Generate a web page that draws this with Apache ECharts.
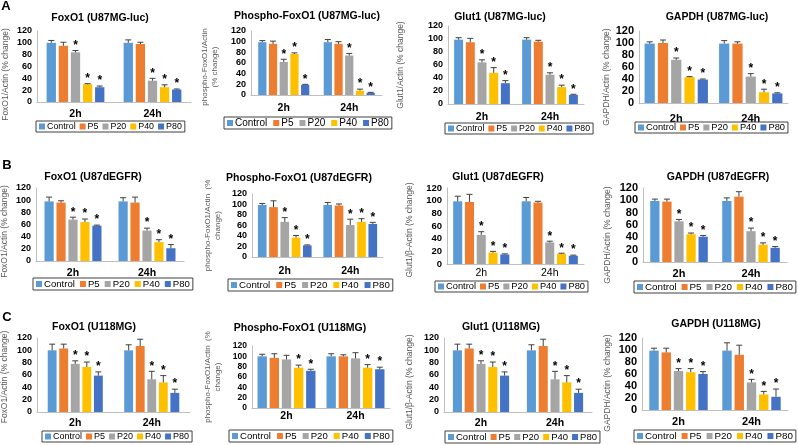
<!DOCTYPE html>
<html><head><meta charset="utf-8">
<script src="https://cdn.jsdelivr.net/npm/echarts@6/dist/echarts.min.js"></script>
<style>html,body{margin:0;padding:0;background:#fff}#c{width:798px;height:445px}</style>
</head><body><div id="c"></div>
<script>
const categories = ['2h', '24h'];
const seriesNames = ['Control', 'P5', 'P20', 'P40', 'P80'];
const yMin = 0, yMax = 120, yStep = 20;

// Values are per series: [2h, 24h]
const A1_title = 'FoxO1 (U87MG-luc)';
const A1_yName = 'FoxO1/Actin (% change)';
const A1_mean = [[100,100],[95,98],[84,36],[30,25],[25,21]];
const A1_err  = [[4,5],[6,3],[3,4],[1,4],[2,1]];
const A1_sig  = [[0,0],[0,0],[1,1],[1,1],[1,1]];

const A2_title = 'Phospho-FoxO1 (U87MG-luc)';
const A2_yName = 'phospho-FoxO1/Actin\n(% change)';
const A2_mean = [[99,99],[96,96],[62,74],[77,8],[19,4]];
const A2_err  = [[3,5],[5,4],[5,4],[2,3],[1,1]];
const A2_sig  = [[0,0],[0,0],[1,1],[1,1],[1,1]];

const A3_title = 'Glut1 (U87MG-luc)';
const A3_yName = 'Glut1/Actin (% change)';
const A3_mean = [[99,99],[95,96],[64,45],[48,26],[32,14]];
const A3_err  = [[3,3],[6,2],[4,3],[8,3],[4,1]];
const A3_sig  = [[0,0],[0,0],[1,1],[1,1],[1,1]];

const A4_title = 'GAPDH (U87MG-luc)';
const A4_yName = 'GAPDH/Actin (% change)';
const A4_mean = [[99,99],[100,99],[72,44],[43,18],[39,16]];
const A4_err  = [[3,5],[5,3],[3,5],[1,5],[1,1]];
const A4_sig  = [[0,0],[0,0],[1,1],[1,1],[1,1]];

const B1_title = 'FoxO1 (U87dEGFR)';
const B1_yName = 'FoxO1/Actin (% change)';
const B1_mean = [[98,98],[96,96],[68,50],[64,31],[58,21]];
const B1_err  = [[7,6],[3,9],[4,4],[5,4],[1,6]];
const B1_sig  = [[0,0],[0,0],[1,1],[1,1],[1,1]];

const B2_title = 'Phospho-FoxO1 (U87dEGFR)';
const B2_yName = 'phospho-FoxO1/Actin  (%\nchange)';
const B2_mean = [[99,99],[95,98],[67,61],[37,67],[22,63]];
const B2_err  = [[3,5],[12,3],[8,11],[4,6],[1,3]];
const B2_sig  = [[0,0],[0,0],[1,1],[1,1],[1,1]];

const B3_title = 'Glut1 (U87dEGFR)';
const B3_yName = 'Glut1/β-Actin (% change)';
const B3_mean = [[99,99],[98,97],[46,34],[18,16],[15,13]];
const B3_err  = [[8,6],[12,2],[5,2],[2,1],[1,1]];
const B3_sig  = [[0,0],[0,0],[1,1],[1,1],[1,1]];

const B4_title = 'GAPDH (U87dEGFR)';
const B4_yName = 'GAPDH/Actin (% change)';
const B4_mean = [[99,99],[98,106],[66,50],[45,28],[41,23]];
const B4_err  = [[3,5],[4,8],[3,5],[2,3],[2,2]];
const B4_sig  = [[0,0],[0,0],[1,1],[1,1],[1,1]];

const C1_title = 'FoxO1 (U118MG)';
const C1_yName = 'FoxO1/Actin (% change)';
const C1_mean = [[100,100],[103,107],[78,53],[73,48],[59,31]];
const C1_err  = [[10,9],[7,11],[5,13],[8,11],[6,6]];
const C1_sig  = [[0,0],[0,0],[1,1],[1,1],[1,1]];

const C2_title = 'Phospho-FoxO1 (U118MG)';
const C2_yName = 'phospho-FoxO1/Actin  (%\nchange)';
const C2_mean = [[100,100],[97,100],[94,96],[78,78],[72,75]];
const C2_err  = [[4,5],[8,3],[8,11],[5,6],[3,4]];
const C2_sig  = [[0,0],[0,0],[0,0],[1,1],[1,1]];

const C3_title = 'Glut1 (U118MG)';
const C3_yName = 'Glut1/β-Actin (% change)';
const C3_mean = [[100,100],[103,107],[78,53],[73,48],[59,31]];
const C3_err  = [[10,9],[7,11],[5,13],[8,11],[6,6]];
const C3_sig  = [[0,0],[0,0],[1,1],[1,1],[1,1]];

const C4_title = 'GAPDH (U118MG)';
const C4_yName = 'GAPDH/Actin (% change)';
const C4_mean = [[99,99],[96,92],[65,46],[63,26],[60,22]];
const C4_err  = [[4,13],[7,16],[4,5],[6,5],[4,13]];
const C4_sig  = [[0,0],[0,0],[1,1],[1,1],[1,1]];

const panelLetters = ['A', 'B', 'C'];

// ---------- styling / layout ----------
const colors = ['#5B9BD5', '#ED7D31', '#A5A5A5', '#FFC000', '#4472C4'];
const FF = "'Liberation Sans', Arial, sans-serif";

const panels = [
  {title:A1_title, yName:A1_yName, mean:A1_mean, err:A1_err, sig:A1_sig},
  {title:A2_title, yName:A2_yName, mean:A2_mean, err:A2_err, sig:A2_sig},
  {title:A3_title, yName:A3_yName, mean:A3_mean, err:A3_err, sig:A3_sig},
  {title:A4_title, yName:A4_yName, mean:A4_mean, err:A4_err, sig:A4_sig},
  {title:B1_title, yName:B1_yName, mean:B1_mean, err:B1_err, sig:B1_sig},
  {title:B2_title, yName:B2_yName, mean:B2_mean, err:B2_err, sig:B2_sig},
  {title:B3_title, yName:B3_yName, mean:B3_mean, err:B3_err, sig:B3_sig},
  {title:B4_title, yName:B4_yName, mean:B4_mean, err:B4_err, sig:B4_sig},
  {title:C1_title, yName:C1_yName, mean:C1_mean, err:C1_err, sig:C1_sig},
  {title:C2_title, yName:C2_yName, mean:C2_mean, err:C2_err, sig:C2_sig},
  {title:C3_title, yName:C3_yName, mean:C3_mean, err:C3_err, sig:C3_sig},
  {title:C4_title, yName:C4_yName, mean:C4_mean, err:C4_err, sig:C4_sig}
];

// l,r,t,b: plot box; ratio: bar group / category; tx,ty: title; lg: legend
const layout = [
  {l:37, r:191, t:31, b:102, ratio:.75, tx:100, ty:18, cm:7, cf:10.5, tf:9, ng:26, nf:8.5, nsh:8, ll:36, lt:121, lf:8.9, lgap:4},
  {l:251, r:382, t:31, b:95, ratio:.78, tx:307, ty:16, cm:8, cf:10.5, tf:9, ng:31, nf:8, nsh:4, ll:224, lt:117, lf:10, lgap:6},
  {l:448, r:584, t:26, b:104, ratio:.82, tx:500, ty:17, cm:8, cf:10.5, tf:9, ng:42, nf:8.5, nsh:0, ll:445, lt:123, lf:8.8, lgap:4},
  {l:639, r:788, t:31, b:103, ratio:.85, tx:717, ty:17, cm:10, cf:11, tf:11, ng:26, nf:8.5, nsh:10, ll:635, lt:122, lf:9.3, lgap:4},
  {l:36, r:184, t:188, b:261, ratio:.77, tx:93, ty:177, cm:7, cf:10.5, tf:9, ng:26, nf:8.5, nsh:7, ll:33, lt:278, lf:9.6, lgap:5},
  {l:252, r:383, t:194, b:257, ratio:.82, tx:299, ty:178, cm:9, cf:10.5, tf:9, ng:29, nf:8, nsh:0, ll:228, lt:279, lf:9.7, lgap:6},
  {l:447, r:584, t:188, b:264, ratio:.82, tx:498, ty:177, cm:4, cf:10.5, tf:9.5, ng:32, nf:8.5, nsh:4, ll:435, lt:281, lf:9.3, lgap:4, catNormal:true},
  {l:643, r:787, t:188, b:262, ratio:.80, tx:718, ty:177, cm:6, cf:11, tf:11, ng:30, nf:8.5, nsh:10, ll:634, lt:281, lf:9.8, lgap:5},
  {l:37, r:190, t:338, b:412, ratio:.72, tx:94, ty:327, cm:6, cf:10.5, tf:9, ng:27, nf:8.5, nsh:2, ll:42, lt:431, lf:9.0, lgap:4},
  {l:252, r:390, t:346, b:408, ratio:.84, tx:300, ty:328, cm:3, cf:10.5, tf:8.5, ng:29, nf:8, nsh:0, ll:229, lt:430, lf:9.6, lgap:6},
  {l:444, r:592, t:338, b:412, ratio:.76, tx:501, ty:327, cm:6, cf:10.5, tf:9, ng:29, nf:8.5, nsh:7, ll:445, lt:431, lf:9.5, lgap:4},
  {l:642, r:788, t:338, b:410, ratio:.80, tx:716, ty:324, cm:6, cf:11, tf:11, ng:29, nf:8.5, nsh:9, ll:634, lt:430, lf:9.8, lgap:5}
];
const letterPos = [[6, 6], [7, 165], [7, 317]];

function makeRender(ratio) {
  return function (params, api) {
    const c = api.value(0), k = api.value(1), v = api.value(2), e = api.value(3), sig = api.value(4);
    const band = api.size([1, 0])[0];
    const w = band * ratio / (5 + 4 * 0.3);
    const total = w * 5 + w * 0.3 * 4;
    const base = api.coord([c, v]);
    const cx = base[0] - total / 2 + w / 2 + k * w * 1.3;
    const top = api.coord([c, v + e])[1];
    const children = [
      {type:'line', shape:{x1:cx, y1:base[1], x2:cx, y2:top}, style:{stroke:'#404040', lineWidth:1}},
      {type:'line', shape:{x1:cx - 3, y1:top, x2:cx + 3, y2:top}, style:{stroke:'#404040', lineWidth:1}}
    ];
    if (sig) children.push({type:'text', x:cx, y:top - 5,
      style:{text:'*', align:'center', verticalAlign:'middle', font:'bold 12px ' + FF, fill:'#000'}});
    return {type:'group', children};
  };
}

const option = {animation:false, backgroundColor:'#fff', grid:[], xAxis:[], yAxis:[], legend:[], series:[], graphic:[]};

panels.forEach((p, i) => {
  const L = layout[i];
  option.grid.push({left:L.l, top:L.t, width:L.r - L.l, height:L.b - L.t, outerBoundsMode:'none', containLabel:false});
  option.xAxis.push({type:'category', gridIndex:i, data:categories,
    axisLine:{show:true, lineStyle:{color:'#bfbfbf', width:1}}, axisTick:{show:false}, splitLine:{show:false},
    axisLabel:{color:'#000', fontWeight:L.catNormal ? 'normal' : 'bold', fontSize:L.cf, margin:L.cm, fontFamily:FF}});
  option.yAxis.push({type:'value', gridIndex:i, min:yMin, max:yMax, interval:yStep,
    axisLine:{show:true, lineStyle:{color:'#bfbfbf', width:1}}, axisTick:{show:false}, splitLine:{show:false},
    axisLabel:{color:'#000', fontWeight:'bold', fontSize:L.tf, margin:5, fontFamily:FF},
    name:p.yName, nameLocation:'middle', nameGap:L.ng,
    nameTextStyle:{color:'#595959', fontSize:L.nf, fontFamily:FF, lineHeight:10, padding:[0, L.nsh * 2, 0, 0]}});
  seriesNames.forEach((s, k) => {
    option.series.push({type:'bar', name:s, xAxisIndex:i, yAxisIndex:i, data:p.mean[k],
      itemStyle:{color:colors[k]}, barGap:'30%', barCategoryGap:((1 - L.ratio) * 100).toFixed(1) + '%', silent:true});
  });
  const cdata = [];
  for (let k = 0; k < 5; k++) for (let c = 0; c < 2; c++) cdata.push([c, k, p.mean[k][c], p.err[k][c], p.sig[k][c]]);
  option.series.push({type:'custom', name:'err' + i, xAxisIndex:i, yAxisIndex:i, data:cdata,
    dimensions:['cat', 'ser', 'mean', 'err', 'sig'], encode:{x:0, y:2}, z:5, silent:true, renderItem:makeRender(L.ratio)});
  option.legend.push({left:L.ll, top:L.lt, data:seriesNames, icon:'rect', itemWidth:6, itemHeight:6, itemGap:L.lgap,
    padding:[1, 3], borderColor:'#404040', borderWidth:1, selectedMode:false,
    textStyle:{fontSize:L.lf, color:'#000', fontFamily:FF, padding:[0, 0, 0, -3]}});
  option.graphic.push({type:'text', x:L.tx, y:L.ty, silent:true,
    style:{text:p.title, align:'center', verticalAlign:'middle', font:'bold 10.5px ' + FF, fill:'#000'}});
});
panelLetters.forEach((t, j) => {
  option.graphic.push({type:'text', x:letterPos[j][0], y:letterPos[j][1], silent:true,
    style:{text:t, align:'center', verticalAlign:'middle', font:'bold 13px ' + FF, fill:'#000'}});
});

const chart = echarts.init(document.getElementById('c'), null, {renderer:'canvas'});
chart.setOption(option);
</script>
</body></html>
